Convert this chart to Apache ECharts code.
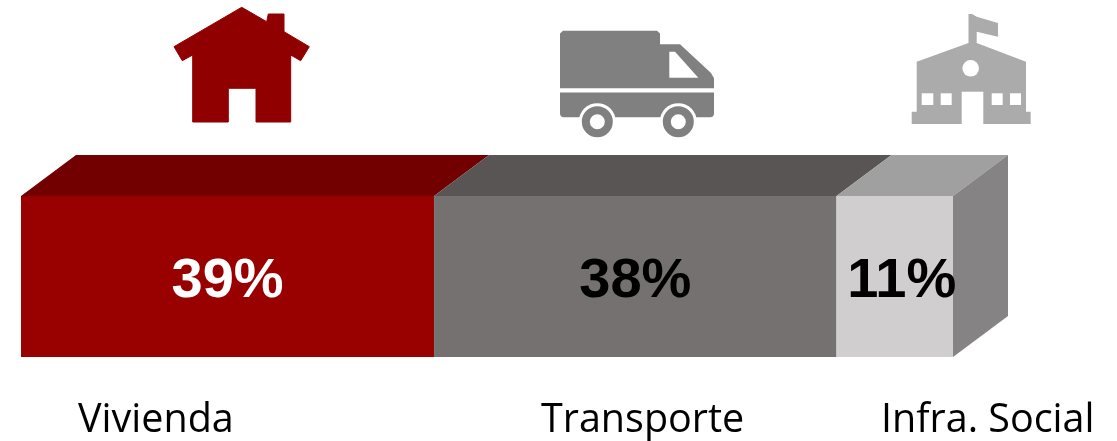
<!DOCTYPE html>
<html>
<head>
<meta charset="utf-8">
<style>
  html, body { margin: 0; padding: 0; background: #fff; }
  #chart { width: 1117px; height: 441px; }
</style>
<script src="https://cdn.jsdelivr.net/npm/echarts@6/dist/echarts.min.js"></script>
</head>
<body>
<div id="chart"></div>
<script>
const categories = ['Vivienda', 'Transporte', 'Infra. Social'];
const shares = [39, 38, 11];

const frontColors = ['#990000', '#767171', '#d0cece'];
const topColors = ['#720000', '#595555', '#a0a0a0'];
const sideColor = '#858383';
const labelColors = ['#fff', '#000', '#000'];

// Fake 3D: how far the back edge of the box is shifted from the front face.
const DEPTH_X = 55;
const DEPTH_Y = 41;

// Running start/end of each segment, used for the top faces.
let running = 0;
const spans = shares.map((v, i) => {
  const span = [running, running + v, 0, i];
  running += v;
  return span;
});

function renderFaces(params, api) {
  const i = api.value(3);
  const start = api.coord([api.value(0), 0]);
  const end = api.coord([api.value(1), 0]);
  const band = api.size([0, 1])[1];
  const top = start[1] - band / 2;
  const bottom = start[1] + band / 2;
  const children = [{
    type: 'polygon',
    shape: { points: [[start[0], top], [end[0], top], [end[0] + DEPTH_X, top - DEPTH_Y], [start[0] + DEPTH_X, top - DEPTH_Y]] },
    style: { fill: topColors[i] }
  }];
  if (i === shares.length - 1) {
    children.push({
      type: 'polygon',
      shape: { points: [[end[0], top], [end[0] + DEPTH_X, top - DEPTH_Y], [end[0] + DEPTH_X, bottom - DEPTH_Y], [end[0], bottom]] },
      style: { fill: sideColor }
    });
  }
  return { type: 'group', children };
}

const barSeries = shares.map((v, i) => ({
  type: 'bar',
  name: categories[i],
  stack: 'total',
  barWidth: '100%',
  data: [v],
  silent: true,
  itemStyle: { color: frontColors[i] },
  label: {
    show: true,
    position: 'inside',
    formatter: '{c}%',
    color: labelColors[i],
    fontFamily: 'Liberation Sans',
    fontWeight: 'bold',
    fontSize: 56,
    offset: [i === 2 ? 7 : 0, 5]
  }
}));

// Icons above the bar, plain vector shapes in page pixels.
const RED = '#910000';
const TRUCK = '#808080';
const SCHOOL = '#ababab';

const houseIcon = {
  type: 'polygon',
  shape: { points: [[241.7, 7.3], [266.7, 21.7], [268.3, 14], [284, 14], [284, 31.7], [309.3, 46.7], [300.7, 60.7], [290.7, 55], [290.7, 122], [256, 122], [256, 88.3], [228.3, 88.3], [228.3, 122], [192.7, 122], [192.7, 55], [182.3, 60.7], [174, 46.7]] },
  style: { fill: RED, stroke: RED, lineWidth: 1, lineJoin: 'round' }
};

const truckIcon = {
  type: 'group',
  children: [
    { type: 'polygon', shape: { points: [[563, 30.7], [657, 30.7], [660, 33.5], [660, 44.3], [680, 44.3], [711, 73], [714, 78.3], [714, 88.3], [560, 88.3], [560, 33.5]] }, style: { fill: TRUCK } },
    { type: 'polygon', shape: { points: [[669.3, 51.7], [675, 51.7], [698.3, 77.7], [669.3, 77.7]] }, style: { fill: '#fff' } },
    { type: 'rect', shape: { x: 560, y: 92.5, width: 154, height: 24.8, r: [0, 0, 4, 4] }, style: { fill: TRUCK } },
    { type: 'circle', shape: { cx: 597.3, cy: 121.7, r: 18.5 }, style: { fill: '#fff' } },
    { type: 'circle', shape: { cx: 678.3, cy: 121.7, r: 18.5 }, style: { fill: '#fff' } },
    { type: 'circle', shape: { cx: 597.3, cy: 121.7, r: 11.5 }, style: { fill: '#fff', stroke: TRUCK, lineWidth: 8 } },
    { type: 'circle', shape: { cx: 678.3, cy: 121.7, r: 11.5 }, style: { fill: '#fff', stroke: TRUCK, lineWidth: 8 } }
  ]
};

const schoolIcon = {
  type: 'group',
  children: [
    { type: 'polygon', shape: { points: [[968.5, 14], [972, 14], [976.7, 16.7], [998, 23], [998, 36.7], [976.7, 31.7], [976.7, 43], [1026, 61.7], [1026, 111.7], [1030.7, 111.7], [1030.7, 124], [911.7, 124], [911.7, 111.7], [916.7, 111.7], [916.7, 61.7], [968.5, 43]] }, style: { fill: SCHOOL } },
    { type: 'circle', shape: { cx: 970.7, cy: 68.3, r: 8.3 }, style: { fill: '#fff' } },
    { type: 'rect', shape: { x: 961.7, y: 91.7, width: 21.6, height: 32.3 }, style: { fill: '#fff' } },
    { type: 'rect', shape: { x: 921.7, y: 93.3, width: 11.6, height: 11.7 }, style: { fill: '#fff' } },
    { type: 'rect', shape: { x: 940.7, y: 93.3, width: 11, height: 11.7 }, style: { fill: '#fff' } },
    { type: 'rect', shape: { x: 991.7, y: 93.3, width: 11, height: 11.7 }, style: { fill: '#fff' } },
    { type: 'rect', shape: { x: 1010, y: 93.3, width: 11, height: 11.7 }, style: { fill: '#fff' } }
  ]
};

const captionX = [78, 541, 881];
const captions = categories.map((name, i) => ({
  type: 'text',
  x: captionX[i],
  y: 421,
  style: {
    text: name,
    fill: '#000',
    font: '39.5px "Open Sans"',
    textAlign: 'left',
    textVerticalAlign: 'middle'
  }
}));

const chart = echarts.init(document.getElementById('chart'), null, { renderer: 'canvas' });
chart.setOption({
  animation: false,
  backgroundColor: '#fff',
  grid: { left: 21, top: 196, width: 932, height: 161, containLabel: false },
  xAxis: { type: 'value', min: 0, max: running, show: false },
  yAxis: { type: 'category', data: ['Total'], show: false },
  graphic: [houseIcon, truckIcon, schoolIcon, ...captions],
  series: [
    ...barSeries,
    {
      type: 'custom',
      silent: true,
      clip: false,
      renderItem: renderFaces,
      encode: { x: [0, 1], y: 2 },
      data: spans
    }
  ]
});
</script>
</body>
</html>
